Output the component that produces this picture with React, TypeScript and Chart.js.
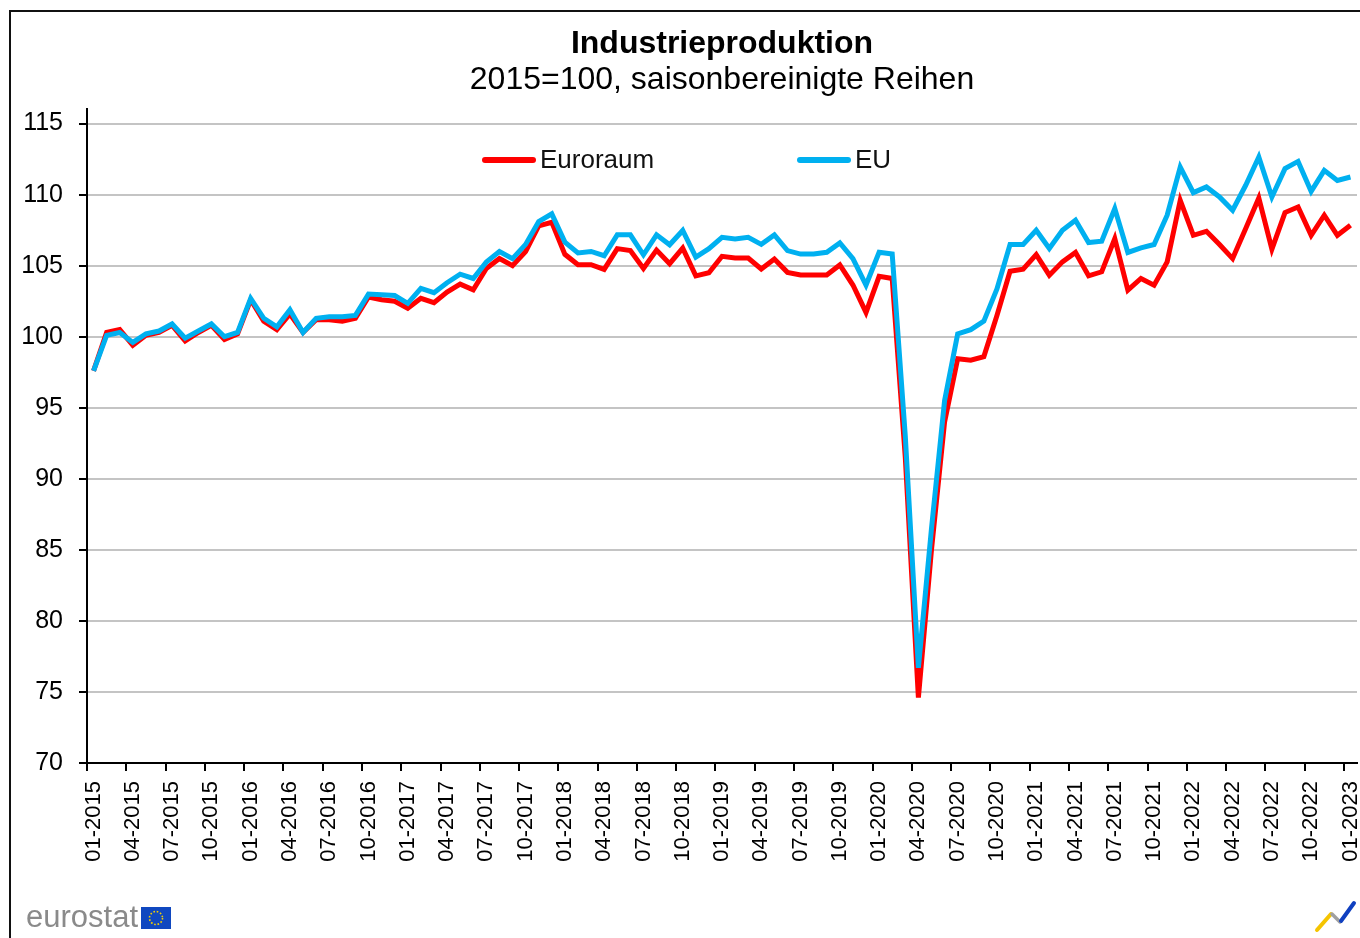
import { useEffect, useRef } from 'react';
import { Chart, registerables } from 'chart.js';

Chart.register(...registerables);

const FONT = '"Liberation Sans", Arial, sans-serif';

const TITLE = 'Industrieproduktion';
const SUBTITLE = '2015=100, saisonbereinigte Reihen';

const YEARS = [2015, 2016, 2017, 2018, 2019, 2020, 2021, 2022, 2023];
const MONTHS = ['01', '02', '03', '04', '05', '06', '07', '08', '09', '10', '11', '12'];
const categories: string[] = [];
for (const y of YEARS) {
  for (const m of MONTHS) {
    if (y === 2023 && m !== '01') break;
    categories.push(`${m}-${y}`);
  }
}

const SERIES_LABELS = ['Euroraum', 'EU'];

const euroraum = [
  97.6, 100.3, 100.5, 99.4, 100.1, 100.3, 100.8, 99.7, 100.3, 100.8, 99.8, 100.2,
  102.6, 101.1, 100.5, 101.6, 100.3, 101.2, 101.2, 101.1, 101.3, 102.8, 102.6, 102.5,
  102.0, 102.7, 102.4, 103.15, 103.7, 103.3, 104.8, 105.5, 105.0, 106.0, 107.8, 108.05,
  105.8, 105.07, 105.07, 104.74, 106.2, 106.07, 104.8, 106.1, 105.14, 106.24, 104.28, 104.5,
  105.66, 105.54, 105.54, 104.77, 105.47, 104.53, 104.34, 104.34, 104.34, 105.05, 103.64, 101.71,
  104.25, 104.1, 91.5, 74.6, 85.0, 94.0, 98.45, 98.35, 98.6, 101.5, 104.61, 104.75,
  105.78, 104.33, 105.27, 105.93, 104.29, 104.57, 106.91, 103.28, 104.1, 103.63, 105.27, 109.6,
  107.14, 107.42, 106.49, 105.5, 107.61, 109.77, 106.16, 108.74, 109.13, 107.14, 108.55, 107.14,
  107.85,
];

const eu = [
  97.6, 100.1, 100.3, 99.6, 100.2, 100.4, 100.9, 99.9, 100.4, 100.9, 100.0, 100.3,
  102.7, 101.3, 100.7, 101.9, 100.3, 101.3, 101.4, 101.4, 101.5, 103.0, 102.95, 102.9,
  102.35, 103.4, 103.1, 103.8, 104.4, 104.1, 105.25, 106.0, 105.5, 106.5, 108.1, 108.65,
  106.66, 105.9, 106.0, 105.7, 107.17, 107.17, 105.77, 107.17, 106.47, 107.48, 105.6, 106.2,
  107.0, 106.88, 107.0, 106.5, 107.16, 106.06, 105.82, 105.82, 105.94, 106.6, 105.5, 103.64,
  105.94, 105.82, 93.0, 76.7, 86.5, 95.5, 100.2, 100.5, 101.1, 103.36, 106.49, 106.49,
  107.49, 106.21, 107.49, 108.2, 106.63, 106.72, 109.02, 105.93, 106.25, 106.49, 108.55, 111.94,
  110.14, 110.54, 109.84, 108.9, 110.66, 112.65, 109.84, 111.83, 112.34, 110.23, 111.71, 111.0,
  111.24,
];

const Y_MIN = 70;
const Y_MAX = 116;
const Y_STEP = 5;
const LABEL_EVERY = 3;

const insideLegend = {
  id: 'insideLegend',
  afterDraw(chart: any) {
    const { ctx } = chart;
    const spots = [485, 800];
    const y = 160;
    ctx.save();
    chart.data.datasets.forEach((ds: any, i: number) => {
      const x = spots[i];
      ctx.beginPath();
      ctx.lineCap = 'round';
      ctx.lineWidth = 6;
      ctx.strokeStyle = ds.borderColor;
      ctx.moveTo(x, y);
      ctx.lineTo(x + 48, y);
      ctx.stroke();
      ctx.font = `26px ${FONT}`;
      ctx.fillStyle = '#111';
      ctx.textBaseline = 'middle';
      ctx.textAlign = 'left';
      ctx.fillText(ds.label, x + 55, y + 1);
    });
    ctx.restore();
  },
};

export default function App() {
  const ref = useRef<HTMLCanvasElement>(null);

  useEffect(() => {
    if (!ref.current) return;
    const chart = new Chart(ref.current, {
      type: 'line',
      data: {
        labels: categories,
        datasets: [
          {
            label: SERIES_LABELS[0],
            data: euroraum,
            borderColor: '#ff0000',
            backgroundColor: '#ff0000',
            borderWidth: 5,
            pointRadius: 0,
            tension: 0,
            order: 1,
          },
          {
            label: SERIES_LABELS[1],
            data: eu,
            borderColor: '#00b0f0',
            backgroundColor: '#00b0f0',
            borderWidth: 5,
            pointRadius: 0,
            tension: 0,
            order: 0,
          },
        ],
      },
      options: {
        responsive: false,
        animation: false,
        layout: { padding: { top: 27, left: 10, right: 3, bottom: 0 } },
        plugins: {
          legend: { display: false },
          tooltip: { enabled: false },
          title: {
            display: true,
            fullSize: false,
            text: TITLE,
            color: '#000',
            font: { family: FONT, size: 32, weight: 'bold', lineHeight: 1.1 },
            padding: { top: 0, bottom: 0 },
          },
          subtitle: {
            display: true,
            fullSize: false,
            text: SUBTITLE,
            color: '#000',
            font: { family: FONT, size: 32, weight: 'normal', lineHeight: 1.1 },
            padding: { top: 0, bottom: 12 },
          },
        },
        scales: {
          x: {
            type: 'category',
            offset: true,
            grid: {
              display: true,
              offset: true,
              drawOnChartArea: false,
              drawTicks: true,
              tickLength: 8,
              lineWidth: 2,
              tickWidth: 2,
              tickColor: (c: any) => (c.index % LABEL_EVERY === 0 ? '#000' : 'rgba(0,0,0,0)'),
            },
            border: { display: true, color: '#000', width: 2 },
            ticks: {
              autoSkip: false,
              minRotation: 90,
              maxRotation: 90,
              padding: 10,
              color: '#000',
              font: { family: FONT, size: 22 },
              callback: (_v: any, i: number) => (i % LABEL_EVERY === 0 ? categories[i] : ''),
            },
            afterFit: (s: any) => {
              s.height = 175;
              s.paddingLeft = 0;
              s.paddingRight = 0;
            },
          },
          y: {
            min: Y_MIN,
            max: Y_MAX,
            grid: {
              color: '#c4c4c4',
              lineWidth: 2,
              tickColor: '#000',
              tickWidth: 2,
              tickLength: 8,
            },
            border: { display: true, color: '#000', width: 2 },
            ticks: {
              stepSize: Y_STEP,
              includeBounds: false,
              padding: 16,
              color: '#000',
              font: { family: FONT, size: 25 },
            },
            afterFit: (s: any) => {
              s.width = 77;
              s.paddingTop = 0;
              s.paddingBottom = 0;
            },
          },
        },
      },
      plugins: [insideLegend],
    });
    return () => chart.destroy();
  }, []);

  return (
    <div
      style={{
        position: 'fixed',
        left: 0,
        top: 0,
        width: 1360,
        height: 938,
        background: '#fff',
        overflow: 'hidden',
      }}
    >
      <canvas ref={ref} width={1360} height={938} style={{ position: 'absolute', left: 0, top: 0 }} />
      <div
        style={{
          position: 'absolute',
          left: 9,
          top: 10,
          width: 1400,
          height: 1000,
          borderLeft: '2px solid #111',
          borderTop: '2px solid #111',
          pointerEvents: 'none',
        }}
      />
      <div
        style={{
          position: 'absolute',
          left: 26,
          top: 901,
          display: 'flex',
          alignItems: 'flex-end',
          pointerEvents: 'none',
        }}
      >
        <span
          style={{
            fontFamily: FONT,
            fontSize: 31,
            lineHeight: '31px',
            color: '#8a8a8a',
          }}
        >
          eurostat
        </span>
        <svg width={30} height={22} style={{ marginLeft: 3, marginBottom: 3 }}>
          <rect x={0} y={0} width={30} height={22} fill="#1048c0" />
          <circle cx={15} cy={11} r={6.5} fill="none" stroke="#f5d000" strokeWidth={1.6} strokeDasharray="1.6 1.8" />
        </svg>
      </div>
      <svg
        width={46}
        height={36}
        style={{ position: 'absolute', left: 1312, top: 898, pointerEvents: 'none' }}
      >
        <line x1={5} y1={32} x2={19} y2={16} stroke="#f5c400" strokeWidth={4} strokeLinecap="round" />
        <line x1={20} y1={16} x2={28} y2={24} stroke="#a0a0a0" strokeWidth={3.5} strokeLinecap="round" />
        <line x1={29} y1={23} x2={42} y2={5} stroke="#1040c0" strokeWidth={4} strokeLinecap="round" />
      </svg>
    </div>
  );
}
